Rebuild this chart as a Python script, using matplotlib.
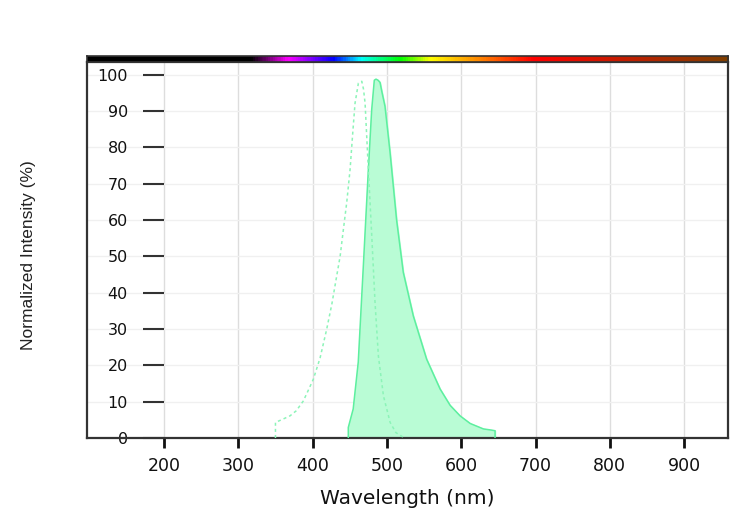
import matplotlib.pyplot as plt
import numpy as np
from matplotlib.colors import LinearSegmentedColormap

# ============================================
# DATA
# ============================================

# emission spectrum (filled)
em_wl = [448, 448, 454.6, 461.4, 468, 475, 479.5, 483, 485.3, 488, 490.7, 493,
         497.4, 504.2, 513, 522, 535.5, 553.4, 571.5, 585, 598.4, 612, 629.8,
         640, 645.5, 645.5]
em_val = [0, 2.9, 8, 20.9, 46.4, 73.9, 90.4, 98.5, 98.8, 98.5, 97.9, 95.5,
          91.3, 78.6, 60, 45.6, 33.6, 21.7, 13.5, 9, 6.1, 4, 2.5,
          2.2, 2.0, 0]

# excitation spectrum (dotted)
ex_wl = [350, 350, 358, 369.6, 378, 387.5, 395, 401, 410, 419, 426, 432.4, 437,
         441.4, 446, 450.4, 454, 457.1, 461.6, 466.2, 468.5, 470.6, 475, 479.6,
         484, 488.5, 495.3, 504.3, 512, 522]
ex_val = [0, 4.3, 5.0, 6.1, 7.5, 10.2, 13.5, 16.2, 22, 30, 37, 44.6, 50,
          57.4, 65, 73.9, 84, 92.2, 97.7, 98.2, 96, 92.2, 73.9, 55.6,
          37.3, 22.6, 11.6, 4.3, 1.5, 0.2]

# spectrum bar along the top
bar_wl = [96.4, 315.8, 365.6, 427.5, 463.8, 517.7, 558, 696.7, 959]
bar_colors = ['#000000', '#000000', '#ff00ff', '#0000ff', '#00ffff',
              '#00ff00', '#ffff00', '#ff0000', '#7f3f00']

x_ticks = [200, 300, 400, 500, 600, 700, 800, 900]
y_ticks = [0, 10, 20, 30, 40, 50, 60, 70, 80, 90, 100]

XMIN, XMAX = 96.4, 959
YMIN, YMAX = 0, 103.5

# ============================================
# PLOTTING
# ============================================

fig = plt.figure(figsize=(7.5, 5.17), dpi=100)
ax = fig.add_axes([0.116, 0.1528, 0.8547, 0.7272])

ax.fill_between(em_wl, em_val, color='#b9fcd5', zorder=2)
ax.plot(em_wl, em_val, color='#5def9f', lw=1.1, zorder=3)
ax.plot(ex_wl, ex_val, color='#8cf4b8', lw=1.1, ls=(0, (2, 2)), zorder=3)

ax.set_xlim(XMIN, XMAX)
ax.set_ylim(YMIN, YMAX)
ax.set_xticks(x_ticks)
ax.set_yticks(y_ticks)

# grid
ax.grid(axis='x', color='#dddddd', lw=1, zorder=0)
ax.grid(axis='y', color='#f0f0f0', lw=1, zorder=0)
ax.set_axisbelow(True)

# spines / frame
for s in ['top', 'right', 'bottom']:
    ax.spines[s].set_color('#333333')
    ax.spines[s].set_linewidth(1.6)
ax.spines['left'].set_position(('data', 200))
ax.spines['left'].set_color('none')
ax.axvline(XMIN, color='#333333', lw=1.6, clip_on=False, zorder=5)

ax.tick_params(axis='y', direction='out', length=15, width=1.5, color='#333333',
               pad=11, labelsize=11.5, labelcolor='#111111')
ax.tick_params(axis='x', direction='out', length=7, width=2, color='#111111',
               pad=7, labelsize=12.5, labelcolor='#111111')

ax.set_xlabel('Wavelength (nm)', fontsize=14.5, color='#111111', labelpad=10)
fig.text(0.038, 0.507, 'Normalized Intensity (%)', rotation=90, ha='center',
         va='center', fontsize=12.5, color='#222222',
         family=['DejaVu Sans Condensed', 'Liberation Sans Narrow', 'Liberation Sans'])

# spectrum bar
cmap = LinearSegmentedColormap.from_list(
    'spec', [((w - XMIN) / (XMAX - XMIN), c) for w, c in zip(bar_wl, bar_colors)])
bax = fig.add_axes([0.116, 0.8801, 0.8547, 0.0116])
grad = np.linspace(0, 1, 600).reshape(1, -1)
bax.imshow(grad, aspect='auto', cmap=cmap, extent=[XMIN, XMAX, 0, 1])
bax.set_xlim(XMIN, XMAX)
bax.set_xticks([])
bax.set_yticks([])
for s in bax.spines.values():
    s.set_color('#333333')
    s.set_linewidth(1.2)

plt.savefig('out.png', dpi=100, facecolor='white')
plt.close()
